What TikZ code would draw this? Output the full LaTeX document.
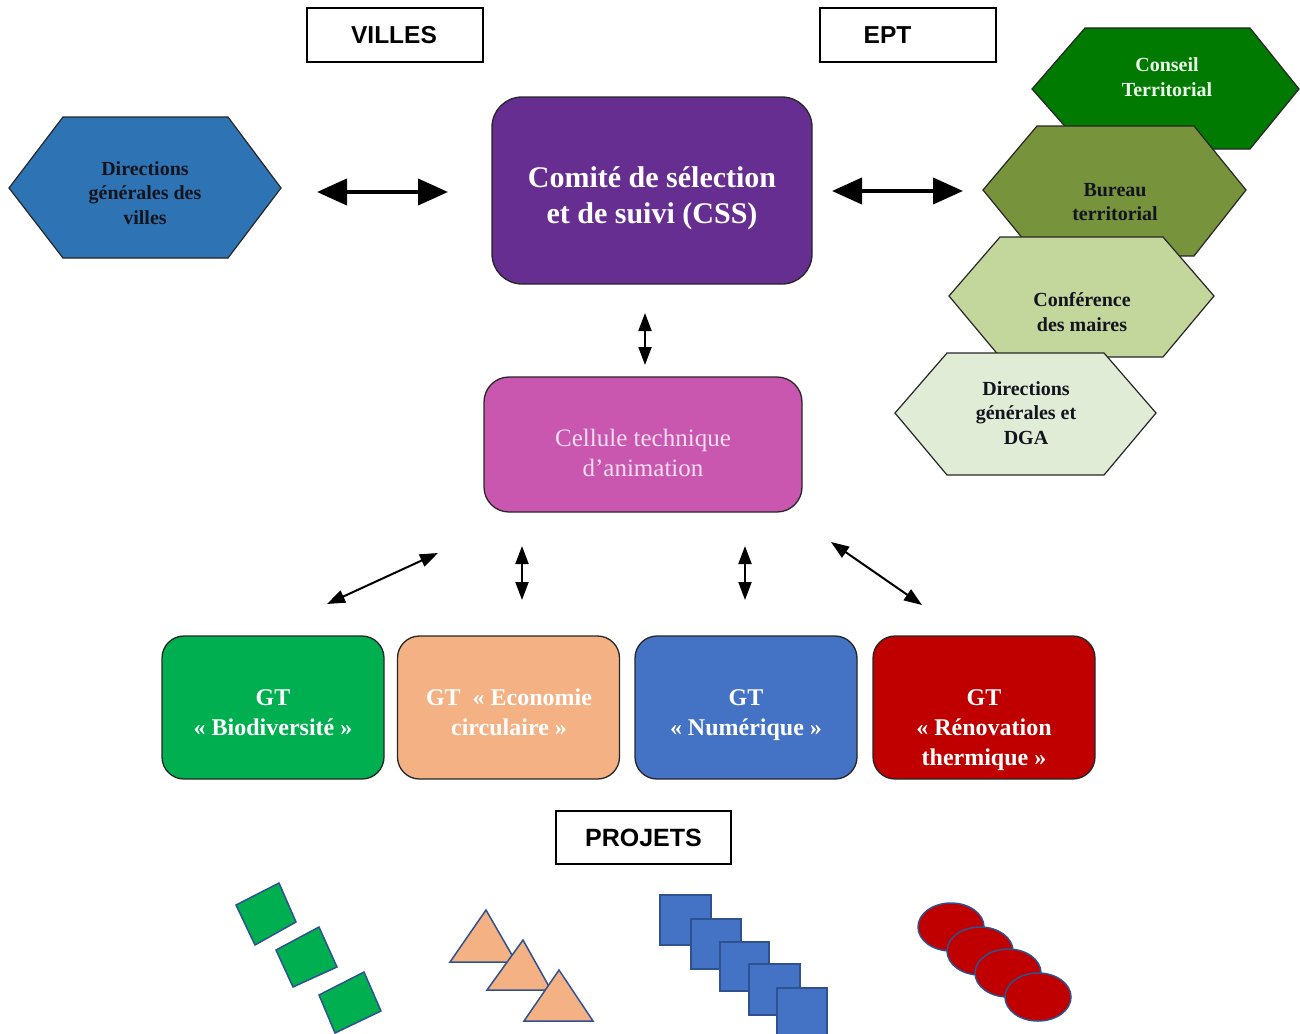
\documentclass[tikz,border=0pt]{standalone}
\usepackage{fontspec}
\setmainfont{Liberation Serif}
\newfontfamily\arialfont{Liberation Sans}
\usetikzlibrary{arrows.meta}
\definecolor{hexblue}{RGB}{46,116,181}
\definecolor{cssP}{RGB}{103,46,145}
\definecolor{celP}{RGB}{201,87,176}
\definecolor{celT}{RGB}{246,222,240}
\definecolor{conseilG}{RGB}{0,122,0}
\definecolor{bureauG}{RGB}{119,147,60}
\definecolor{confG}{RGB}{195,214,155}
\definecolor{dgaG}{RGB}{224,236,214}
\definecolor{gtGreen}{RGB}{0,176,80}
\definecolor{gtPeach}{RGB}{244,177,131}
\definecolor{gtBlue}{RGB}{68,114,196}
\definecolor{gtRed}{RGB}{192,0,0}
\definecolor{shpLine}{RGB}{47,82,143}
\definecolor{hexText}{RGB}{20,20,30}
\begin{document}
\begin{tikzpicture}[x=1pt,y=-1pt,
  lblbox/.style={draw=black,line width=1.6pt,fill=white,inner sep=0pt},
  lbltext/.style={inner sep=0pt,font=\arialfont\bfseries\fontsize{24.5}{28}\selectfont},
  hexshape/.style={draw=black!85,line width=1.2pt},
  hextext/.style={align=center,inner sep=0pt,text=hexText,
    font=\bfseries\fontsize{20}{24.5}\selectfont},
  gtbox/.style={draw=black!85,line width=1.3pt,rounded corners=22pt,
    minimum width=222pt,minimum height=143pt,inner sep=0pt},
  gttext/.style={align=center,inner sep=0pt,text=white,
    font=\bfseries\fontsize{24}{30}\selectfont},
  bigarrow/.style={line width=4pt,{Triangle[length=30pt,width=26pt]}-{Triangle[length=30pt,width=26pt]}},
  smallarrow/.style={line width=2pt,{Triangle[length=18pt,width=13pt]}-{Triangle[length=18pt,width=13pt]}},
  shp/.style={draw=shpLine,line width=1.5pt}]
\useasboundingbox (0,0) rectangle (1300,1033);

% header labels
\node[lblbox,minimum width=176pt,minimum height=54pt] (villesbox) at (395,35) {};
\node[lbltext] (villes) at (394,35) {VILLES};
\node[lblbox,minimum width=176pt,minimum height=54pt] (eptbox) at (908,35) {};
\node[lbltext] (ept) at (887.5,35) {EPT};

% left hexagon
\filldraw[hexshape,fill=hexblue] (9,188) -- (63,117) -- (228,117) -- (281,188) -- (228,258) -- (63,258) -- cycle;
\node[hextext] (dgv) at (145,193) {Directions\\générales des\\villes};

% CSS
\node[draw=black!85,line width=1.3pt,fill=cssP,rounded corners=30pt,
  minimum width=320pt,minimum height=187pt] (cssbox) at (652,190.5) {};
\node[align=center,inner sep=0pt,text=white,font=\bfseries\fontsize{30}{36}\selectfont]
  (css) at (652,198) {Comité de sélection\\et de suivi (CSS)};

% Cellule
\node[draw=black!85,line width=1.3pt,fill=celP,rounded corners=25pt,
  minimum width=318pt,minimum height=135pt] (celbox) at (643,444.5) {};
\node[align=center,inner sep=0pt,text=celT,font=\fontsize{25}{30}\selectfont]
  (cel) at (643,453) {Cellule technique\\d’animation};

% EPT hexagons
\filldraw[hexshape,fill=conseilG] (1032,89) -- (1085,28) -- (1250,28) -- (1299,89) -- (1250,149) -- (1085,149) -- cycle;
\node[hextext,text=white!92!green] (conseil) at (1167,77) {Conseil\\Territorial};
\filldraw[hexshape,fill=bureauG] (983,190) -- (1037,126) -- (1194,126) -- (1246,190) -- (1194,256) -- (1037,256) -- cycle;
\node[hextext] (bureau) at (1115,202) {Bureau\\territorial};
\filldraw[hexshape,fill=confG] (949,296) -- (1000,237) -- (1163,237) -- (1214,296) -- (1163,357) -- (1000,357) -- cycle;
\node[hextext] (conf) at (1082,312) {Conférence\\des maires};
\filldraw[hexshape,fill=dgaG] (895,413) -- (947,353) -- (1104,353) -- (1156,413) -- (1104,475) -- (947,475) -- cycle;
\node[hextext] (dga) at (1026,413) {Directions\\générales et\\DGA};

% big arrows
\coordinate (la1) at (317,192); \coordinate (la2) at (448,192);
\coordinate (ra1) at (832,191); \coordinate (ra2) at (963,191);
\draw[bigarrow] (la1) -- (la2);
\draw[bigarrow] (ra1) -- (ra2);

% small arrows
\coordinate (va1) at (645,313); \coordinate (va2) at (645,365);
\draw[smallarrow] (va1) -- (va2);
\coordinate (d1a) at (327,604); \coordinate (d1b) at (438,553);
\coordinate (d2a) at (522,546); \coordinate (d2b) at (522,600);
\coordinate (d3a) at (745,546); \coordinate (d3b) at (745,600);
\coordinate (d4a) at (831,542); \coordinate (d4b) at (922,605);
\draw[smallarrow] (d1a) -- (d1b);
\draw[smallarrow] (d2a) -- (d2b);
\draw[smallarrow] (d3a) -- (d3b);
\draw[smallarrow] (d4a) -- (d4b);

% GT boxes
\node[gtbox,fill=gtGreen] (gt1box) at (273,707.5) {};
\node[gtbox,fill=gtPeach] (gt2box) at (508.5,707.5) {};
\node[gtbox,fill=gtBlue] (gt3box) at (746,707.5) {};
\node[gtbox,fill=gtRed] (gt4box) at (984,707.5) {};
\node[gttext] (gt1) at (273,714) {\strut GT\\« Biodiversité »\strut};
\node[gttext] (gt2) at (509,714) {\strut GT~~« Economie\\circulaire »\strut};
\node[gttext] (gt3) at (746,714) {\strut GT\\« Numérique »\strut};
\node[gttext] (gt4) at (984,729) {\strut GT\\« Rénovation\\thermique »\strut};

% PROJETS
\node[lblbox,minimum width=175pt,minimum height=53pt] (projetsbox) at (643.5,837.5) {};
\node[lbltext,font=\arialfont\bfseries\fontsize{25}{28}\selectfont] (projets) at (643.5,838) {PROJETS};

% project shapes: green
\filldraw[shp,fill=gtGreen] (279,883) -- (296,922) -- (255,945) -- (236,905) -- cycle;
\filldraw[shp,fill=gtGreen] (319,927) -- (337,967) -- (293,987) -- (276,950) -- cycle;
\filldraw[shp,fill=gtGreen] (364,972) -- (381,1011) -- (335,1033) -- (319,995) -- cycle;
% peach triangles
\filldraw[shp,fill=gtPeach] (486,910) -- (516,962) -- (450,962) -- cycle;
\filldraw[shp,fill=gtPeach] (523,940) -- (551,990) -- (487,990) -- cycle;
\filldraw[shp,fill=gtPeach] (559,970) -- (593,1021) -- (524,1021) -- cycle;
% blue rectangles
\filldraw[shp,fill=gtBlue] (660,895) rectangle (711,945);
\filldraw[shp,fill=gtBlue] (691,919) rectangle (741,969);
\filldraw[shp,fill=gtBlue] (720,942) rectangle (769,991);
\filldraw[shp,fill=gtBlue] (749,964) rectangle (800,1015);
\filldraw[shp,fill=gtBlue] (777,988) rectangle (827,1040);
% red ellipses
\filldraw[shp,fill=gtRed] (951,927) ellipse [x radius=33, y radius=24];
\filldraw[shp,fill=gtRed] (980,951) ellipse [x radius=33, y radius=24];
\filldraw[shp,fill=gtRed] (1008,973) ellipse [x radius=33, y radius=24];
\filldraw[shp,fill=gtRed] (1038,997) ellipse [x radius=33, y radius=24];
\end{tikzpicture}
\end{document}
